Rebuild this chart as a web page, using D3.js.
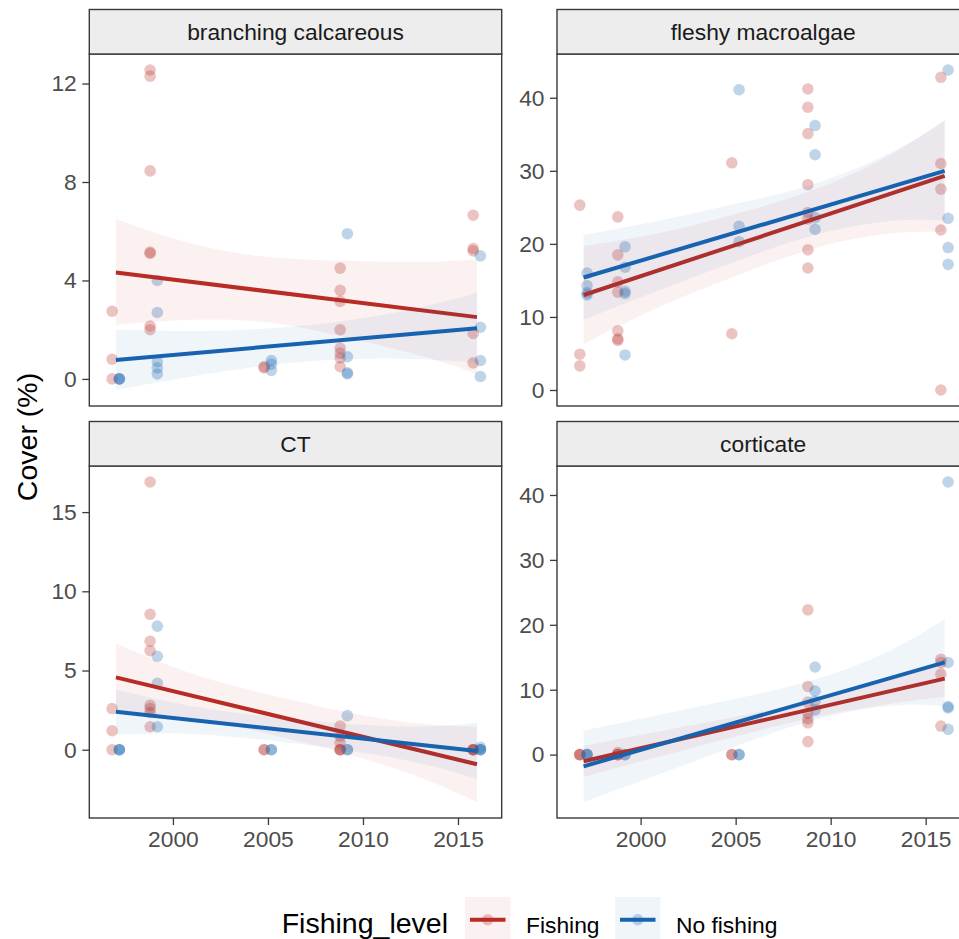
<!DOCTYPE html>
<html lang="en">
<head>
<meta charset="UTF-8">
<title>Cover by year and fishing level</title>
<script src="https://cdn.jsdelivr.net/npm/d3@7"></script>
<style>
  body { margin: 0; background: #fff; }
  svg text { font-family: "Liberation Sans", Arial, Helvetica, sans-serif; }
</style>
</head>
<body>
<div id="chart"></div>
<script>
// ---- values ----
const years = [1997, 1999, 2005, 2009, 2016];
const levels = ["Fishing", "No fishing"];
const panelNames = ["branching calcareous", "fleshy macroalgae", "CT", "corticate"];
const xTicks = [2000, 2005, 2010, 2015];
const yTicks = [[0, 4, 8, 12], [0, 10, 20, 30, 40], [0, 5, 10, 15], [0, 10, 20, 30, 40]];

// cover (%) per survey year, one inner list per year
const branchingFishing = [[2.75, 0.8, 0], [12.55, 12.3, 8.45, 5.15, 5.1, 2.15, 2.0], [0.5, 0.45], [4.5, 3.6, 3.15, 2.0, 1.25, 1.05, 0.85, 0.5], [6.65, 5.3, 5.2, 1.85, 0.65]];
const branchingNoFishing = [[0, 0, 0], [4.0, 2.7, 0.7, 0.45, 0.2], [0.75, 0.6, 0.35], [5.9, 0.9, 0.25, 0.2], [5.0, 2.1, 0.75, 0.1]];
const fleshyFishing = [[25.3, 4.9, 3.3], [23.7, 18.5, 14.8, 13.4, 8.1, 7.0, 6.8], [31.1, 7.7], [41.2, 38.7, 35.1, 28.1, 24.3, 23.4, 19.2, 16.7], [42.8, 31.0, 27.5, 21.9, 0]];
const fleshyNoFishing = [[16.0, 14.3, 13.3, 13.0], [19.6, 16.8, 13.5, 13.2, 4.8], [41.1, 22.4, 20.3], [36.2, 32.2, 23.6, 22.0], [43.8, 23.5, 19.5, 17.2]];
const ctFishing = [[2.6, 1.2, 0], [16.9, 8.55, 6.85, 6.25, 2.8, 2.6, 2.35, 1.45], [0, 0], [1.5, 0.85, 0.45, 0, 0, 0], [0, 0, 0, 0]];
const ctNoFishing = [[0, 0, 0], [7.8, 5.9, 4.2, 1.45], [0, 0], [2.15, 0, 0], [0.15, 0, 0, 0]];
const corticateFishing = [[0, 0, 0], [0.3, 0, 0, 0], [0, 0], [22.3, 10.5, 8.1, 6.4, 5.5, 4.9, 2.0], [14.7, 14.2, 12.4, 4.4]];
const corticateNoFishing = [[0, 0, 0], [0, 0], [0, 0], [13.5, 9.8, 8.2, 6.9], [42.0, 14.2, 7.4, 7.2, 3.9]];

// linear fits (start, end) and their confidence bands [lower, upper]
const fitYears = [1997, 2016];
const bandYears = [1997, 2001, 2005, 2009, 2013, 2016];
const branchingFishingFit = [4.32, 2.51];
const branchingNoFishingFit = [0.77, 2.06];
const fleshyFishingFit = [13.0, 29.3];
const fleshyNoFishingFit = [15.4, 30.0];
const ctFishingFit = [4.57, -0.92];
const ctNoFishingFit = [2.39, -0.08];
const corticateFishingFit = [-1.03, 11.7];
const corticateNoFishingFit = [-1.8, 14.2];
const branchingFishingBand = [[2.2, 6.5], [2.4, 5.5], [2.3, 4.95], [1.7, 4.8], [0.95, 4.75], [0.2, 4.85]];
const branchingNoFishingBand = [[-0.45, 2.0], [0.1, 1.95], [0.55, 2.05], [0.8, 2.35], [0.8, 2.9], [0.65, 3.5]];
const fleshyFishingBand = [[6.3, 19.7], [11.4, 21.5], [15.6, 24.1], [19.3, 27.3], [21.4, 32.0], [21.6, 37.0]];
const fleshyNoFishingBand = [[9.6, 21.2], [13.7, 23.2], [17.6, 25.5], [21.1, 28.1], [23.1, 32.3], [23.2, 36.8]];
const ctFishingBand = [[2.4, 6.7], [2.0, 4.8], [1.0, 3.5], [-0.2, 2.4], [-1.75, 1.65], [-3.3, 1.45]];
const ctNoFishingBand = [[0.95, 3.8], [1.0, 2.75], [0.6, 2.1], [0.0, 1.65], [-0.85, 1.45], [-1.85, 1.7]];
const corticateFishingBand = [[-3.4, 1.35], [-0.3, 3.6], [2.8, 5.85], [5.65, 8.35], [7.75, 11.65], [8.9, 14.5]];
const corticateNoFishingBand = [[-7.3, 3.7], [-3.0, 6.15], [1.3, 8.6], [5.2, 11.4], [7.5, 15.85], [7.5, 20.9]];

const panels = [
    { points: [branchingFishing, branchingNoFishing], fit: [branchingFishingFit, branchingNoFishingFit], band: [branchingFishingBand, branchingNoFishingBand] },
    { points: [fleshyFishing, fleshyNoFishing], fit: [fleshyFishingFit, fleshyNoFishingFit], band: [fleshyFishingBand, fleshyNoFishingBand] },
    { points: [ctFishing, ctNoFishing], fit: [ctFishingFit, ctNoFishingFit], band: [ctFishingBand, ctNoFishingBand] },
    { points: [corticateFishing, corticateNoFishing], fit: [corticateFishingFit, corticateNoFishingFit], band: [corticateFishingBand, corticateNoFishingBand] }
];

// ---- layout ----
const width = 959, height = 939;
const colLeft = [89.3, 557], panelW = 412.4;
const rowTop = [9.5, 421.5], stripH = 44.5, panelH = 352;
const xLimits = [1995.6, 2017.3];
const dodge = [-0.2, 0.18];
const lineColor = ["#B82C25", "#1763B0"];
const font = "\"Liberation Sans\", Arial, Helvetica, sans-serif";
const small = 22.8, big = 28.5;
const frame = "#3a3a3a";

const svg = d3.select("#chart").append("svg")
    .attr("width", width)
    .attr("height", height);

panels.forEach((p, i) => {
    const col = i % 2, row = Math.floor(i / 2);
    const x0 = colLeft[col], top = rowTop[row] + stripH, bottom = top + panelH;

    const x = d3.scaleLinear().domain(xLimits).range([x0, x0 + panelW]);

    // free y scale with 5% padding around points and bands
    const vals = [];
    p.points.forEach(lv => lv.forEach(yr => vals.push(...yr)));
    p.band.forEach(b => b.forEach(d => vals.push(d[0], d[1])));
    const [lo, hi] = d3.extent(vals);
    const pad = (hi - lo) * 0.05;
    const y = d3.scaleLinear().domain([lo - pad, hi + pad]).range([bottom, top]);

    const g = svg.append("g");
    const clipId = `clip-${i}`;
    g.append("clipPath").attr("id", clipId)
        .append("rect").attr("x", x0).attr("y", top).attr("width", panelW).attr("height", panelH);

    const plot = g.append("g").attr("clip-path", `url(#${clipId})`);

    // points, dodged per level
    levels.forEach((lv, li) => {
        const pts = [];
        p.points[li].forEach((vs, yi) => vs.forEach(v => pts.push({ yr: years[yi] + dodge[li], v: v })));
        plot.append("g").selectAll("circle")
            .data(pts)
            .enter()
            .append("circle")
            .attr("cx", d => x(d.yr))
            .attr("cy", d => y(d.v))
            .attr("r", 5.8)
            .attr("fill", lineColor[li])
            .attr("fill-opacity", 0.28);
    });

    // smooth: band then line, per level
    levels.forEach((lv, li) => {
        const area = d3.area()
            .x((d, k) => x(bandYears[k]))
            .y0(d => y(d[0]))
            .y1(d => y(d[1]))
            .curve(d3.curveNatural);
        plot.append("path")
            .datum(p.band[li])
            .attr("d", area)
            .attr("fill", lineColor[li])
            .attr("fill-opacity", 0.065);

        const line = d3.line()
            .x((d, k) => x(fitYears[k]))
            .y(d => y(d));
        plot.append("path")
            .datum(p.fit[li])
            .attr("d", line)
            .attr("fill", "none")
            .attr("stroke", lineColor[li])
            .attr("stroke-width", 4);
    });

    // panel border
    g.append("rect")
        .attr("x", x0).attr("y", top)
        .attr("width", panelW).attr("height", panelH)
        .attr("fill", "none")
        .attr("stroke", frame)
        .attr("stroke-width", 1.4);

    // strip
    g.append("rect")
        .attr("x", x0).attr("y", rowTop[row])
        .attr("width", panelW).attr("height", stripH)
        .attr("fill", "#EDEDED")
        .attr("stroke", frame)
        .attr("stroke-width", 1.4);
    g.append("text")
        .attr("x", x0 + panelW / 2)
        .attr("y", rowTop[row] + stripH / 2 + 8.3)
        .attr("text-anchor", "middle")
        .attr("font-size", small)
        .attr("fill", "#1A1A1A")
        .text(panelNames[i]);

    // y axis
    g.append("g")
        .attr("transform", `translate(${x0},0)`)
        .call(d3.axisLeft(y).tickValues(yTicks[i]).tickSize(7).tickPadding(5.5).tickFormat(d3.format("d")))
        .call(a => a.select(".domain").remove())
        .call(a => a.selectAll("line").attr("stroke", frame).attr("stroke-width", 1.3))
        .call(a => a.selectAll("text").attr("fill", "#4D4D4D"))
        .attr("font-size", small)
        .attr("font-family", font);

    // x axis only on the bottom row
    if (row === 1) {
        g.append("g")
            .attr("transform", `translate(0,${bottom})`)
            .call(d3.axisBottom(x).tickValues(xTicks).tickSize(7).tickPadding(5.7).tickFormat(d3.format("d")))
            .call(a => a.select(".domain").remove())
            .call(a => a.selectAll("line").attr("stroke", frame).attr("stroke-width", 1.3))
            .call(a => a.selectAll("text").attr("fill", "#4D4D4D"))
            .attr("font-size", small)
            .attr("font-family", font);
    }
});

// y axis title
svg.append("text")
    .attr("transform", "translate(37,437) rotate(-90)")
    .attr("text-anchor", "middle")
    .attr("font-size", big)
    .attr("fill", "#000")
    .text("Cover (%)");

// legend
const legend = svg.append("g");
const keyX = [465, 615], keyY = 897, keyS = 45.5;
legend.append("text")
    .attr("x", 448)
    .attr("y", 933)
    .attr("text-anchor", "end")
    .attr("font-size", big)
    .attr("fill", "#000")
    .text("Fishing_level");

levels.forEach((lv, li) => {
    const kx = keyX[li];
    legend.append("rect")
        .attr("x", kx).attr("y", keyY)
        .attr("width", keyS).attr("height", keyS)
        .attr("fill", lineColor[li])
        .attr("fill-opacity", 0.065);
    legend.append("circle")
        .attr("cx", kx + keyS / 2).attr("cy", keyY + keyS / 2)
        .attr("r", 5.8)
        .attr("fill", lineColor[li])
        .attr("fill-opacity", 0.28);
    legend.append("line")
        .attr("x1", kx + 5).attr("x2", kx + keyS - 5)
        .attr("y1", keyY + keyS / 2).attr("y2", keyY + keyS / 2)
        .attr("stroke", lineColor[li])
        .attr("stroke-width", 4);
    legend.append("text")
        .attr("x", kx + keyS + 15.5)
        .attr("y", 933)
        .attr("font-size", small)
        .attr("fill", "#000")
        .text(lv);
});
</script>
</body>
</html>
